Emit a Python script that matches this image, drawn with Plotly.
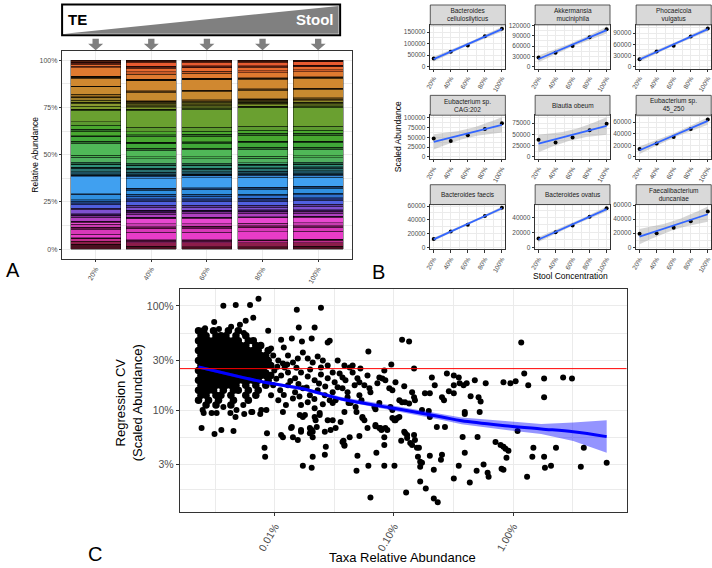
import numpy as np
import plotly.graph_objects as go

W, H = 712, 568
FONT = "Liberation Sans, Arial, Helvetica, sans-serif"
GRID = "#EBEBEB"
BORDER = "#333333"
TICKC = "#4D4D4D"


def fx(p):
    return p / W


def fy(p):
    return 1 - p / H


# ---------------- Panel A : relative abundance (stacked) ----------------
concentration_labels = ["20%", "40%", "60%", "80%", "100%"]
taxa_colors = [
    "#4a0f20", "#8c1d4a", "#c02c8c", "#3a0a2a", "#e83cc8", "#d838b8", "#6a1450", "#c83cb0", "#e848d0", "#501850",
    "#b040c0", "#7c2c90", "#30104a", "#8050d0", "#5a3aa0",
    "#5060e0", "#203070", "#3070d0", "#2060a8", "#3090e0", "#1a3c6a", "#40a0f0", "#3a8ad8",
    "#0a1a28", "#1d5060", "#2a7070", "#143838", "#30907a", "#0e2a1a", "#40a070",
    "#50b060", "#48b050", "#50b858", "#2c6c2c", "#40a838", "#143814", "#48a830", "#306a28", "#4aa82e", "#5c9a30", "#6aa030",
    "#2a3810", "#7a9a2a", "#8a9a30", "#404010", "#8a8a28", "#9a7a28", "#3a2a08", "#a07020",
    "#c88a30", "#4a3010", "#d08830", "#1a1005", "#e07a30",
    "#c85a28", "#e86a30", "#5a1a10", "#e85a30", "#3a1008",
]
abund_20 = [2.6, 1.7, 1.2, 0.5, 2.0, 2.6, 1.0, 1.6, 1.0, 0.6, 2.0, 1.0, 1.0, 2.4, 0.6,
            2.0, 0.8, 0.8, 0.8, 2.6, 0.5, 9.0, 0.6, 0.6, 1.6, 1.4, 0.8, 1.4, 0.5, 0.8,
            2.6, 1.0, 6.5, 1.0, 2.5, 0.5, 2.4, 1.0, 2.1, 1.7, 6.2, 0.6, 1.6, 1.6, 0.5, 1.0, 1.4, 0.4, 1.4,
            3.8, 0.5, 4.2, 1.0, 4.5, 0.7, 1.1, 1.2, 0.5, 0.5]
abund_40 = [1.5, 1.8, 1.0, 0.6, 4.0, 2.0, 1.0, 1.5, 2.8, 0.6, 1.8, 1.0, 1.0, 1.7, 1.0,
            2.0, 1.4, 1.4, 1.0, 2.2, 1.0, 5.0, 1.2, 0.8, 1.4, 1.4, 0.8, 1.2, 0.6, 0.8,
            2.4, 1.0, 3.5, 1.0, 2.5, 0.7, 3.0, 1.0, 1.6, 2.2, 9.0, 0.7, 0.8, 0.8, 0.6, 0.8, 0.7, 0.4, 0.4,
            4.5, 0.6, 5.5, 0.8, 2.6, 1.2, 2.0, 1.0, 2.2, 1.0]
abund_60 = [1.4, 1.9, 1.0, 0.6, 4.2, 2.0, 1.0, 1.4, 2.9, 0.6, 1.7, 1.0, 1.0, 1.6, 1.0,
            2.0, 1.5, 1.3, 1.0, 2.4, 1.0, 5.3, 1.0, 0.8, 1.3, 1.3, 0.7, 1.2, 0.5, 0.8,
            2.5, 1.0, 3.6, 1.0, 2.6, 0.7, 3.0, 1.0, 1.6, 2.1, 9.5, 0.7, 0.7, 0.8, 0.6, 0.8, 0.6, 0.4, 0.4,
            4.6, 0.6, 5.4, 0.8, 2.6, 1.1, 1.9, 1.0, 2.0, 1.0]
abund_80 = [1.4, 2.0, 1.0, 0.6, 4.3, 2.0, 1.0, 1.5, 2.9, 0.6, 1.6, 1.0, 0.9, 1.5, 1.0,
            2.1, 1.5, 1.3, 1.0, 2.5, 1.0, 5.4, 1.0, 0.8, 1.3, 1.3, 0.7, 1.2, 0.5, 0.8,
            2.5, 1.0, 3.7, 1.0, 2.6, 0.7, 3.1, 1.0, 1.6, 2.0, 10.0, 0.7, 0.7, 0.7, 0.6, 0.7, 0.6, 0.4, 0.4,
            4.5, 0.6, 5.2, 0.7, 2.5, 1.1, 1.8, 1.0, 1.9, 1.0]
abund_100 = [1.5, 2.0, 1.2, 0.6, 4.2, 2.0, 0.8, 1.6, 3.0, 0.6, 1.5, 1.0, 1.0, 1.6, 1.2,
             2.2, 1.2, 1.5, 1.0, 2.5, 1.2, 4.6, 1.0, 0.8, 1.6, 1.3, 0.8, 1.2, 0.5, 0.8,
             2.5, 1.0, 3.5, 1.0, 2.5, 0.7, 3.0, 1.0, 1.6, 2.2, 10.0, 0.8, 0.7, 0.7, 0.6, 0.8, 0.6, 0.4, 0.4,
             4.6, 0.6, 5.2, 0.8, 2.6, 1.0, 1.7, 0.9, 1.7, 0.9]

# ---------------- Panel B : scaled abundance per taxon ----------------
stool_conc = [20, 40, 60, 80, 100]
facet_titles = ["Bacteroides<br>cellulosilyticus", "Akkermansia<br>muciniphila", "Phocaeicola<br>vulgatus",
                "Eubacterium sp.<br>CAG:202", "Blautia obeum", "Eubacterium sp.<br>45_250",
                "Bacteroides faecis", "Bacteroides ovatus", "Faecalibacterium<br>duncaniae"]
scaled_cellulosilyticus = [35500, 64000, 92000, 132000, 165000]
scaled_muciniphila = [26300, 40500, 60300, 85700, 109000]
scaled_vulgatus = [19800, 40700, 56300, 80800, 102500]
scaled_cag202 = [47000, 40700, 55300, 71500, 86000]
scaled_obeum = [38000, 32000, 43000, 59000, 73500]
scaled_45_250 = [13700, 23100, 34200, 48000, 64500]
scaled_faecis = [12000, 23000, 32700, 45600, 57500]
scaled_ovatus = [11600, 20300, 29300, 40900, 52500]
scaled_duncaniae = [19400, 20000, 27800, 37000, 51000]
facet_tick_step = [50000, 30000, 30000, 25000, 25000, 20000, 20000, 20000, 20000]

# ---------------- Panel C : regression CV vs relative abundance (both in %) ----------------
dense_cv_levels = [57.8, 51.8, 46.4, 41.6, 37.3, 33.4, 29.9, 26.8, 24.0, 21.5, 19.3, 17.3, 15.5, 13.9, 12.4, 11.2]
dense_abund_rows = [
    [0.00229, 0.00253, 0.00306, 0.00408, 0.00494],
    [0.0024, 0.00265, 0.00321, 0.00353, 0.00389, 0.00472, 0.00571],
    [0.00229, 0.00253, 0.00278, 0.00306, 0.00337, 0.0037, 0.00408, 0.0045, 0.00494, 0.006, 0.0066],
    [0.0024, 0.00265, 0.00292, 0.00321, 0.00353, 0.00389, 0.00428, 0.00472, 0.00518, 0.00571, 0.00693, 0.00762],
    [0.00229, 0.00253, 0.00278, 0.00306, 0.00337, 0.0037, 0.00408, 0.0045, 0.00494, 0.00544, 0.006, 0.0066, 0.00726, 0.0088],
    [0.0024, 0.00265, 0.00292, 0.00321, 0.00353, 0.00389, 0.00428, 0.00472, 0.00518, 0.00571, 0.0063, 0.00693, 0.00762, 0.0084],
    [0.00229, 0.00253, 0.00278, 0.00306, 0.00337, 0.0037, 0.00408, 0.0045, 0.00494, 0.00544, 0.006, 0.0066, 0.00726, 0.008, 0.0088],
    [0.0024, 0.00265, 0.00292, 0.00321, 0.00353, 0.00389, 0.00428, 0.00472, 0.00518, 0.00571, 0.0063, 0.00693, 0.00762, 0.0084, 0.00924],
    [0.00229, 0.00253, 0.00278, 0.00306, 0.00337, 0.0037, 0.00408, 0.0045, 0.00494, 0.00544, 0.006, 0.0066, 0.00726, 0.008],
    [0.0024, 0.00265, 0.00292, 0.00321, 0.00353, 0.00389, 0.00428, 0.00472, 0.00518, 0.00571, 0.0063, 0.00693, 0.00762, 0.0084, 0.00924],
    [0.00229, 0.00253, 0.00278, 0.00306, 0.00337, 0.0037, 0.00408, 0.0045, 0.00494, 0.00544, 0.006, 0.0066, 0.00726, 0.0088],
    [0.0024, 0.00265, 0.00292, 0.00321, 0.00353, 0.00389, 0.00428, 0.00472, 0.00571, 0.00693, 0.0084],
    [0.00229, 0.00253, 0.00278, 0.00306, 0.0037, 0.0045, 0.00494, 0.006, 0.00726],
    [0.0024, 0.00265, 0.00321, 0.00353, 0.00428, 0.00571, 0.00693],
    [0.00229, 0.00278, 0.00337, 0.0045, 0.006],
    [0.00265, 0.00321, 0.00428],
]
pts_upper = [
    (0.0037, 100), (0.0047, 102), (0.0062, 102), (0.0073, 117), (0.0153, 92), (0.0244, 96),
    (0.0066, 77), (0.0051, 66), (0.0088, 57.8), (0.0159, 62), (0.0216, 62), (0.0113, 47.4),
    (0.0139, 48.5), (0.0169, 45.4), (0.0204, 48.5), (0.0278, 44.4), (0.0289, 46.4), (0.061, 36.5),
    (0.117, 47.4), (0.134, 45.4), (1.17, 44.4), (0.0093, 39), (0.0119, 39.8), (0.095, 27.4),
    (0.1475, 25.1), (0.0117, 28.0), (0.0127, 27.4), (0.0097, 33.4), (0.0107, 29.9), (0.0129, 33.4),
    (0.0142, 28.7), (0.0156, 31.2), (0.0172, 35.7), (0.0189, 31.2), (0.0208, 28.7), (0.0229, 32.7),
    (0.0253, 29.9), (0.0337, 29.9), (0.0384, 26.8), (0.0093, 26.8), (0.0278, 26.8),
    (0.0026, 61.0), (0.0034, 60.0), (0.0043, 63.0), (0.0055, 55.0), (0.0031, 70.0), (0.0057, 72.0),
]
pts_middle = [
    (0.083, 24.0), (0.045, 26.8), (0.0425, 25.6), (0.0244, 25.6), (0.0099, 24.0), (0.0113, 21.5),
    (0.0129, 23.0), (0.0148, 20.2), (0.0166, 23.0), (0.0189, 21.0), (0.0216, 19.3), (0.0244, 22.0),
    (0.0278, 20.2), (0.0318, 18.5), (0.0097, 17.3), (0.0111, 15.5), (0.0129, 17.3), (0.0148, 14.8),
    (0.0172, 16.2), (0.0197, 13.9), (0.0229, 15.5), (0.0263, 13.9), (0.0306, 14.8), (0.0107, 12.4),
    (0.0124, 11.2), (0.0142, 12.9), (0.0166, 11.2), (0.0189, 11.9), (0.0216, 10.4), (0.0253, 11.4),
    (0.0093, 13.9), (0.0117, 9.57), (0.045, 23.0), (0.0523, 25.1), (0.06, 21.5), (0.0565, 17.3),
    (0.0408, 13.3), (0.0085, 23.0), (0.0121, 25.6), (0.0306, 23.0), (0.035, 22.5), (0.037, 20.6),
    (0.0392, 19.3), (0.0337, 16.6), (0.037, 16.2), (0.0408, 14.8), (0.0289, 12.4), (0.0306, 11.7),
    (0.0324, 12.4), (0.0384, 9.6), (0.0494, 20.2), (0.0513, 18.5), (0.0468, 17.3), (0.0623, 16.2),
    (0.0635, 14.8), (0.0513, 13.9), (0.0534, 12.4), (0.0433, 11.7), (0.0477, 10.7), (0.0416, 11.7),
    (0.0686, 10.7), (0.0754, 11.7), (0.122, 16.9), (0.103, 18.5), (0.0754, 20.6), (0.08, 20.1),
    (0.0847, 19.3), (0.0726, 18.1), (0.0914, 16.2), (0.097, 15.5), (0.111, 12.4), (0.117, 11.9),
    (0.124, 11.9), (0.134, 11.6), (0.142, 14.8), (0.1475, 13.3), (0.150, 12.4), (0.172, 10.0),
    (0.196, 9.8), (0.0934, 10.7), (0.097, 10.0), (0.07, 10.2),
    (0.0103, 20.0), (0.0135, 19.0), (0.0158, 17.8), (0.0185, 16.5), (0.0105, 26.0), (0.0152, 25.5),
    (0.0198, 24.5), (0.0235, 18.0), (0.0265, 16.8), (0.0119, 14.0), (0.0161, 13.5), (0.0215, 12.8),
]
pts_right = [
    (0.278, 22.5), (0.318, 21.5), (0.35, 20.6), (0.208, 20.6), (0.22, 17.3), (0.253, 13.3),
    (0.263, 12.4), (0.289, 15.2), (0.182, 14.5), (0.2, 14.5), (0.318, 17.3), (0.356, 18.1),
    (0.384, 17.3), (0.408, 18.1), (0.477, 19.3), (0.589, 18.1), (0.44, 13.6), (0.513, 13.3),
    (0.534, 12.1), (0.393, 9.6), (0.393, 9.2), (0.524, 9.6), (0.318, 14.5), (0.2, 8.6),
    (0.83, 18.5), (0.95, 18.1), (1.05, 18.9), (1.24, 22.5), (1.34, 17.3), (1.82, 20.1),
    (1.82, 13.3), (2.63, 20.6), (3.12, 20.1), (1.09, 6.3), (1.48, 4.35), (1.45, 3.57),
    (1.82, 3.57), (1.85, 2.8), (2.08, 2.93), (2.29, 4.35), (1.31, 2.3), (3.92, 4.35),
    (3.7, 2.87), (6.1, 3.13), (0.229, 6.89), (0.268, 6.89), (0.253, 3.73), (0.248, 3.34),
    (0.318, 2.21), (0.35, 2.93), (0.377, 5.53), (0.393, 3.9), (0.433, 2.02), (0.503, 5.53),
    (0.494, 2.62), (0.565, 3.0), (0.611, 2.51), (0.623, 2.3), (0.712, 4.95), (0.785, 4.64),
    (0.83, 4.44), (0.863, 4.25), (0.914, 4.07), (0.88, 3.49), (0.8, 2.74), (0.83, 2.68),
    (0.185, 1.77), (0.216, 2.68), (0.2, 3.65), (0.216, 1.42), (0.233, 1.31), (0.166, 2.07),
    (0.166, 2.87), (0.172, 3.13), (0.166, 3.2), (0.159, 3.57), (0.162, 4.35), (0.156, 4.35),
]
pts_lower = [
    (0.101, 8.0), (0.107, 8.4), (0.0847, 6.75), (0.088, 6.45), (0.07, 7.0), (0.0769, 6.75),
    (0.083, 5.5), (0.0544, 8.6), (0.0565, 8.0), (0.0357, 7.7), (0.0306, 8.0), (0.0425, 5.5),
    (0.037, 4.95), (0.0384, 4.64), (0.0294, 6.45), (0.0278, 8.0), (0.0263, 6.2), (0.0238, 9.0),
    (0.022, 8.0), (0.0216, 8.6), (0.02, 6.45), (0.0208, 6.2), (0.0197, 6.0), (0.0208, 5.5),
    (0.0172, 8.6), (0.0179, 9.0), (0.0166, 6.45), (0.0142, 5.5), (0.0156, 5.18), (0.0117, 5.5),
    (0.0086, 6.0), (0.0137, 6.75), (0.0268, 4.45), (0.0263, 3.73), (0.0208, 3.57), (0.0172, 2.93),
    (0.0204, 2.8), (0.0082, 4.35), (0.0083, 3.57), (0.0384, 4.54), (0.0494, 3.65), (0.0485, 2.62),
    (0.061, 2.93), (0.0635, 1.45), (0.0712, 3.9), (0.083, 2.93), (0.101, 2.93), (0.1265, 1.62),
    (0.115, 5.07), (0.124, 6.04), (0.129, 5.4), (0.137, 4.85), (0.1475, 5.78), (0.150, 5.18),
    (0.142, 4.64), (0.00243, 6.75), (0.00312, 5.9), (0.00356, 6.45), (0.0045, 6.3), (0.00554, 9.17),
    (0.00648, 9.57), (0.0085, 10), (0.00248, 10.0), (0.00253, 9.37), (0.00295, 9.37), (0.00325, 9.37),
    (0.0037, 10.7), (0.00424, 9.37), (0.00468, 8.6), (0.00477, 10), (0.00544, 11.2), (0.00635, 9.57),
    (0.00755, 9.17), (0.0077, 10), (0.0113, 5.78), (0.0139, 6.9), (0.0166, 6.2), (0.0162, 9.0),
    (0.0197, 6.75), (0.0204, 6.45), (0.0225, 6.9), (0.0238, 9.37), (0.0324, 6.75), (0.0377, 5.07),
    (0.0513, 5.65), (0.0544, 8.4), (0.0485, 9.57), (0.06, 6.75), (0.07, 7.2), (0.0754, 6.75),
    (0.0785, 6.45), (0.097, 8.4), (0.103, 8.0), (0.111, 8.6), (0.122, 6.2), (0.129, 5.78), (0.083, 4.64),
]
smooth_abund = [0.00229, 0.00544, 0.008, 0.0172, 0.037, 0.1, 0.253, 0.37, 0.91, 1.72, 3.2, 6.1]
smooth_cv = [25.9, 20.5, 18.6, 16.0, 12.7, 10.4, 8.6, 7.9, 7.05, 6.6, 6.2, 5.57]
smooth_lo = [25.1, 19.8, 18.0, 15.4, 12.2, 9.85, 8.05, 7.3, 6.4, 5.9, 5.05, 3.9]
smooth_hi = [26.8, 21.2, 19.2, 16.6, 13.3, 11.0, 9.2, 8.5, 7.8, 7.35, 7.6, 8.0]
cv_reference = 25.0

# =====================================================================
fig = go.Figure()
layout = {}
annotations = []
shapes = []


def axis_style(**kw):
    d = dict(showline=True, mirror=True, linecolor=BORDER, linewidth=1, ticks="outside",
             ticklen=2.5, tickcolor=BORDER, tickwidth=0.8, zeroline=False, showgrid=True,
             gridcolor=GRID, gridwidth=1, tickfont=dict(family=FONT, color=TICKC, size=7))
    d.update(kw)
    return d


def add_text(text, x, y, size, color="black", angle=0, xanchor="center", bold=False, family=FONT):
    annotations.append(dict(text=("<b>%s</b>" % text) if bold else text, x=x, y=y,
                            xref="paper", yref="paper", showarrow=False, textangle=angle,
                            xanchor=xanchor, yanchor="middle",
                            font=dict(family=family, size=size, color=color)))


# ---------------- Panel A ----------------
samples = [abund_20, abund_40, abund_60, abund_80, abund_100]
xpos = list(range(len(concentration_labels)))
for i, col in enumerate(taxa_colors):
    fig.add_trace(go.Bar(x=xpos, y=[s[i] / 100.0 for s in samples], width=0.9,
                         marker=dict(color=col, line=dict(color="black", width=0.4)),
                         xaxis="x", yaxis="y", hoverinfo="skip", showlegend=False))

layout["xaxis"] = axis_style(domain=[fx(57.7), fx(349)], range=[-0.6, 4.6], tickvals=xpos,
                             ticktext=concentration_labels, tickangle=-60, anchor="y")
layout["yaxis"] = axis_style(domain=[fy(257.5), fy(48)], range=[-0.05, 1.05],
                             tickvals=[0, 0.25, 0.5, 0.75, 1.0],
                             ticktext=["0%", "25%", "50%", "75%", "100%"], anchor="x",
                             minor=dict(tickvals=[0.125, 0.375, 0.625, 0.875], showgrid=True,
                                        gridcolor=GRID, gridwidth=0.5, ticks=""))
add_text("Relative Abundance", fx(30), fy(153), 8.5, angle=-90)

# banner
shapes.append(dict(type="path", xref="paper", yref="paper",
                   path="M %f,%f L %f,%f L %f,%f Z" % (fx(60), fy(31), fx(336), fy(3), fx(336), fy(31)),
                   fillcolor="#808080", line=dict(width=0), layer="above"))
shapes.append(dict(type="rect", xref="paper", yref="paper", x0=fx(57.5), x1=fx(337.5),
                   y0=fy(32.5), y1=fy(1.5), line=dict(color="black", width=2), layer="above"))
add_text("TE", fx(61), fy(17), 15, color="black", xanchor="left", bold=True)
add_text("Stool", fx(333), fy(17), 15, color="white", xanchor="right", bold=True)
# arrows above each bar
for i in xpos:
    p = ("M {a},{t} L {b},{t} L {b},{m} L {c},{m} L {x},{e} L {d},{m} L {f},{m} Z"
         .format(a=i - 0.057, b=i + 0.057, c=i + 0.135, d=i - 0.135, f=i - 0.057, x=i,
                 t=fy(36), m=fy(41), e=fy(47.5)))
    shapes.append(dict(type="path", xref="x", yref="paper", path=p, fillcolor="#7F7F7F",
                       line=dict(width=0), layer="above"))

# ---------------- Panel B ----------------
facet_values = [scaled_cellulosilyticus, scaled_muciniphila, scaled_vulgatus,
                scaled_cag202, scaled_obeum, scaled_45_250,
                scaled_faecis, scaled_ovatus, scaled_duncaniae]
col_x = [(428.3, 503.9), (533.9, 609.3), (635.6, 711.2)]
row_y = [(22, 66), (113, 157), (203, 248)]
strip_h = 20
t975 = 3.182446
xf = np.linspace(20, 100, 80)
for k, vals in enumerate(facet_values):
    r, c = divmod(k, 3)
    n = k + 3
    xs = np.array(stool_conc, float)
    ys = np.array(vals, float)
    slope, icpt = np.polyfit(xs, ys, 1)
    fit = icpt + slope * xf
    res = ys - (icpt + slope * xs)
    s = np.sqrt((res ** 2).sum() / (len(xs) - 2))
    se = s * np.sqrt(1.0 / len(xs) + (xf - xs.mean()) ** 2 / ((xs - xs.mean()) ** 2).sum())
    lo, hi = fit - t975 * se, fit + t975 * se
    xa, ya = "x%d" % n, "y%d" % n
    fig.add_trace(go.Scatter(x=np.concatenate([xf, xf[::-1]]), y=np.concatenate([hi, lo[::-1]]),
                             fill="toself", fillcolor="rgba(153,153,153,0.4)", line=dict(width=0),
                             mode="lines", xaxis=xa, yaxis=ya, hoverinfo="skip", showlegend=False))
    fig.add_trace(go.Scatter(x=xs, y=ys, mode="markers", marker=dict(color="black", size=4),
                             xaxis=xa, yaxis=ya, hoverinfo="skip", showlegend=False))
    fig.add_trace(go.Scatter(x=xf, y=fit, mode="lines", line=dict(color="#3366FF", width=1.8),
                             xaxis=xa, yaxis=ya, hoverinfo="skip", showlegend=False))
    ymin = min(0.0, lo.min(), ys.min())
    ymax = max(hi.max(), ys.max())
    pad = 0.05 * (ymax - ymin)
    step = facet_tick_step[k]
    x0p, x1p = col_x[c]
    y0p, y1p = row_y[r]
    layout["xaxis%d" % n] = axis_style(domain=[fx(x0p), fx(x1p)], range=[16, 104], anchor=ya,
                                       tickvals=stool_conc, ticktext=["%d%%" % v for v in stool_conc],
                                       tickangle=-60, tickfont=dict(family=FONT, color=TICKC, size=6.5),
                                       minor=dict(tickvals=[30, 50, 70, 90], showgrid=True,
                                                  gridcolor=GRID, gridwidth=0.5, ticks=""))
    layout["yaxis%d" % n] = axis_style(domain=[fy(y1p), fy(y0p)], range=[ymin - pad, ymax + pad],
                                       anchor=xa, tick0=0, dtick=step, tickformat="d",
                                       tickfont=dict(family=FONT, color=TICKC, size=6.5),
                                       minor=dict(tick0=0, dtick=step / 2, showgrid=True,
                                                  gridcolor=GRID, gridwidth=0.5, ticks=""))
    shapes.append(dict(type="rect", xref="paper", yref="paper", x0=fx(x0p), x1=fx(x1p),
                       y0=fy(y0p), y1=fy(y0p - strip_h), fillcolor="#D9D9D9",
                       line=dict(color=BORDER, width=0.8), layer="above"))
    add_text(facet_titles[k], fx((x0p + x1p) / 2), fy(y0p - strip_h / 2), 6.5, color="#1A1A1A")

add_text("Scaled Abundance", fx(396), fy(135), 8.5, angle=-90)
add_text("Stool Concentration", fx(569.5), fy(275), 8.5)

# ---------------- Panel C ----------------
dense_pts = [(a, cv) for cv, row in zip(dense_cv_levels, dense_abund_rows) for a in row]
sparse_pts = pts_upper + pts_middle + pts_right + pts_lower
fig.add_trace(go.Scatter(x=[p[0] for p in dense_pts], y=[p[1] for p in dense_pts], mode="markers",
                         marker=dict(color="black", size=7.5), xaxis="x2", yaxis="y2",
                         hoverinfo="skip", showlegend=False))
fig.add_trace(go.Scatter(x=[p[0] for p in sparse_pts], y=[p[1] for p in sparse_pts], mode="markers",
                         marker=dict(color="black", size=6), xaxis="x2", yaxis="y2",
                         hoverinfo="skip", showlegend=False))
fig.add_trace(go.Scatter(x=smooth_abund + smooth_abund[::-1], y=smooth_hi + smooth_lo[::-1],
                         fill="toself", fillcolor="rgba(0,0,255,0.42)", line=dict(width=0),
                         mode="lines", xaxis="x2", yaxis="y2", hoverinfo="skip", showlegend=False))
fig.add_trace(go.Scatter(x=smooth_abund, y=smooth_cv, mode="lines",
                         line=dict(color="#0000FF", width=3, shape="spline"),
                         xaxis="x2", yaxis="y2", hoverinfo="skip", showlegend=False))
shapes.append(dict(type="line", xref="x2 domain", yref="y2", x0=0, x1=1, y0=cv_reference,
                   y1=cv_reference, line=dict(color="#FF0000", width=1), layer="above"))

layout["xaxis2"] = axis_style(domain=[fx(176), fx(626)], type="log", range=[-2.7975, 0.9525],
                              anchor="y2", tickvals=[0.01, 0.1, 1], ticktext=["0.01%", "0.10%", "1.00%"],
                              tickangle=-60, tickfont=dict(family=FONT, color=TICKC, size=10.5),
                              ticklen=3,
                              minor=dict(tickvals=[0.00316, 0.0316, 0.316, 3.16], showgrid=True,
                                         gridcolor=GRID, gridwidth=0.6, ticks=""))
layout["yaxis2"] = axis_style(domain=[fy(513), fy(288)], type="log", range=[0.019, 2.162],
                              anchor="x2", tickvals=[3, 10, 30, 100], ticktext=["3%", "10%", "30%", "100%"],
                              tickfont=dict(family=FONT, color=TICKC, size=10.5), ticklen=3,
                              minor=dict(tickvals=[1.74, 5.48, 17.3, 54.8], showgrid=True,
                                         gridcolor=GRID, gridwidth=0.6, ticks=""))
add_text("Taxa Relative Abundance", fx(400), fy(558), 13)
add_text("Regression CV<br>(Scaled Abundance)", fx(125), fy(403), 13, angle=-90)

# panel letters
add_text("A", fx(8), fy(269), 20)
add_text("B", fx(376), fy(271), 20)
add_text("C", fx(91), fy(555), 20)

fig.update_layout(width=W, height=H, margin=dict(l=0, r=0, t=0, b=0), paper_bgcolor="white",
                  plot_bgcolor="white", showlegend=False, barmode="stack", bargap=0.1,
                  font=dict(family=FONT), annotations=annotations, shapes=shapes, **layout)
fig.write_html("out.html")
